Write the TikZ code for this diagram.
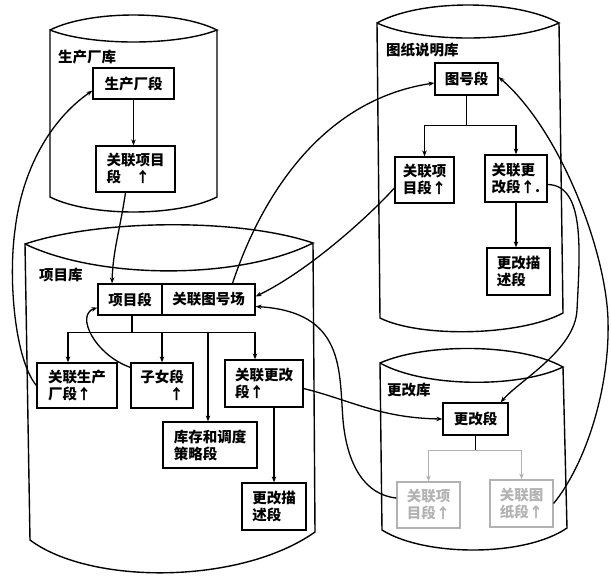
\documentclass[tikz,border=0pt]{standalone}
\usepackage{fontspec}
\newfontfamily\cjk{Noto Sans CJK SC}
\usetikzlibrary{arrows.meta}
\tikzset{
  txt/.style={font=\cjk\bfseries\fontsize{14.5}{17}\selectfont},
  box/.style={txt, draw, line width=1.2pt, inner sep=0pt, align=left},
  gbox/.style={box, draw=gray!60, text=gray!60},
  lbl/.style={txt, anchor=west, inner sep=0pt},
  cyl/.style={line width=1.4pt},
  tree/.style={line width=1.2pt},
  con/.style={line width=1.3pt, -{Stealth[length=6pt,width=4.5pt]}},
  gcon/.style={con, draw=gray!60},
}
\begin{document}
\begin{tikzpicture}[x=1pt,y=-1pt]
\useasboundingbox (0,0) rectangle (611,576);

% cylinders
\draw[cyl] (50,30) .. controls (90,10) and (177,10) .. (217,30)
           .. controls (177,46) and (90,46) .. (50,30)
           -- (50,197) .. controls (90,217) and (177,217) .. (217,197) -- (217,30);
\draw[cyl] (377,23) .. controls (420,-1) and (516,-1) .. (559,23)
           .. controls (516,43) and (420,43) .. (377,23)
           -- (380,318) .. controls (420,338) and (520,336) .. (563,313) -- (559,23);
\draw[cyl] (25,244) .. controls (100,219) and (240,218) .. (313,243)
           .. controls (240,280) and (100,280) .. (25,244)
           -- (30,540) .. controls (90,585) and (240,585) .. (315,532) -- (313,243);
\draw[cyl] (380,363) .. controls (425,343) and (520,343) .. (563,367)
           .. controls (520,388) and (425,388) .. (380,363)
           -- (382,530) .. controls (425,557) and (525,557) .. (567,528) -- (563,367);

% cylinder labels
\node[lbl] (L1) at (58,57) {生产厂库};
\node[lbl] (L2) at (386,50) {图纸说明库};
\node[lbl] (L3) at (39,275) {项目库};
\node[lbl] (L4) at (387,390) {更改库};

% boxes
\node[box, minimum width=81pt, minimum height=31pt] (A1) at (133.5,83.5) {生产厂段};
\node[box, minimum width=79pt, minimum height=46pt] (A2) at (135.5,169) {关联项目\\段\hspace{1em}↑};

\node[box, minimum width=63pt, minimum height=32pt] (B1) at (466.5,79) {图号段};
\node[box, minimum width=59pt, minimum height=46pt] (B2) at (424.5,180) {关联项\\目段↑};
\node[box, minimum width=62pt, minimum height=47pt] (B3) at (516,178.5) {关联更\\改段↑.};
\node[box, minimum width=63pt, minimum height=47pt] (B4) at (518.5,271.5) {更改描\\述段};

\node[box, minimum width=64pt, minimum height=31pt] (C1a) at (130,299.5) {项目段};
\node[box, minimum width=93pt, minimum height=31pt] (C1b) at (208.5,299.5) {关联图号场};
\node[box, minimum width=80pt, minimum height=45pt] (C2) at (77,385.5) {关联生产\\厂段↑};
\node[box, minimum width=62pt, minimum height=45pt, align=right] (C3) at (162,385.5) {子女段\\↑};
\node[box, minimum width=78pt, minimum height=47pt] (C4) at (264,383.5) {关联更改\\段↑};
\node[box, minimum width=94pt, minimum height=46pt] (C5) at (210,445) {库存和调度\\策略段};
\node[box, minimum width=64pt, minimum height=47pt] (C6) at (274,506.5) {更改描\\述段};

\node[box, minimum width=65pt, minimum height=32pt] (D1) at (475.5,419) {更改段};
\node[gbox, minimum width=63pt, minimum height=46pt] (D2) at (428.5,505) {关联项\\目段↑};
\node[gbox, minimum width=63pt, minimum height=47pt] (D3) at (521.5,503.5) {关联图\\纸段↑};

% trees
\draw[con] (A1.south) -- (A1.south |- A2.north);

\draw[tree] (B1.south) -- ++(0,30) coordinate (Bj);
\draw[con] (Bj) -| (B2.north);
\draw[con] (Bj) -| (B3.north);
\draw[con] (B3.south) -- (B3.south |- B4.north);

\draw[tree] ([xshift=2pt]C1a.south) -- ++(0,17) coordinate (Cj);
\draw[con] (Cj) -| ([xshift=-9pt]C2.north);
\draw[con] (Cj) -| (C3.north);
\draw[con] (Cj) -| ([xshift=-2pt]C5.north);
\draw[con] (Cj) -| ([xshift=-9pt]C4.north);
\draw[con] (C6.north |- C4.south) -- (C6.north);

\draw[tree] (D1.south) -- ++(0,15) coordinate (Dj);
\draw[gcon] (Dj) -| (D2.north);
\draw[gcon] (Dj) -| (D3.north);

% long connectors
\draw[con] ([xshift=-10pt]A2.south) .. controls (120,230) and (113,250) .. ([xshift=-18pt]C1a.north);
\draw[con] (C2.west) .. controls (15,360) and (8,280) .. (15,230)
           .. controls (22,170) and (50,120) .. ([yshift=9pt]A1.south west);
\draw[con] ([yshift=-5pt]C3.north west) .. controls (95,355) and (75,315) .. ([yshift=8pt]C1a.south west);
\draw[con] ([xshift=24pt]C1b.north) .. controls (260,200) and (320,100) .. ([yshift=-4pt]B1.west);
\draw[con] ([yshift=-8pt]B2.west) .. controls (370,215) and (310,270) .. ([yshift=3pt]C1b.east);
\draw[con] ([yshift=7pt]D2.west) .. controls (365,495) and (347,465) .. (343,420)
           .. controls (339,370) and (345,312) .. ([yshift=-7pt]C1b.east);
\draw[con] ([yshift=-5pt]C4.east) .. controls (350,400) and (380,418) .. (D1.west);
\draw[con] ([yshift=-6pt]B3.east) .. controls (585,185) and (580,250) .. (577,310)
           .. controls (575,350) and (520,380) .. ([xshift=-8pt]D1.north east);
\draw[con] (D3.east) .. controls (585,465) and (610,390) .. (608,320)
           .. controls (606,250) and (560,130) .. ([yshift=2pt]B1.east);
\end{tikzpicture}
\end{document}
